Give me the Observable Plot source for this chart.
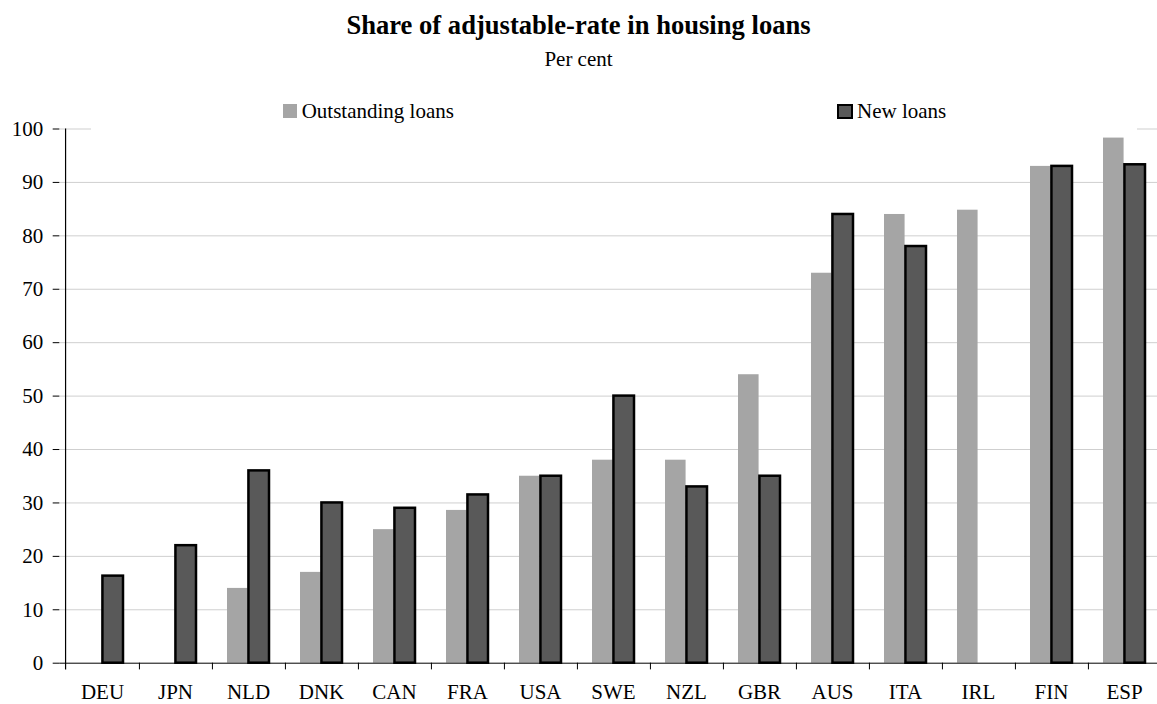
<!DOCTYPE html>
<html>
<head>
<meta charset="utf-8">
<script src="https://cdn.jsdelivr.net/npm/d3@7"></script>
<script src="https://cdn.jsdelivr.net/npm/@observablehq/plot@0.6"></script>
<style>
  html, body { margin: 0; padding: 0; overflow: hidden; background: #fff; }
  #wrap { position: relative; width: 1157px; height: 704px; font-family: "Liberation Serif", "Times New Roman", serif; color: #000; }
  .title { position: absolute; left: 0; width: 1157px; text-align: center; line-height: 1; white-space: nowrap; }
  #t1 { top: 11.5px; font-size: 26.6px; font-weight: bold; }
  #t2 { top: 49px; font-size: 21px; }
  #chart { position: absolute; left: 0; top: 80px; }
  #legend { position: absolute; left: 91px; top: 96px; width: 1046px; height: 36px; background: #fff; z-index: 2; }
  .li { position: absolute; top: 4.7px; font-size: 21px; line-height: 1; white-space: nowrap; }
  .sw { position: absolute; box-sizing: border-box; }
</style>
</head>
<body>
<div id="wrap">
  <div id="t1" class="title">Share of adjustable-rate in housing loans</div>
  <div id="t2" class="title">Per cent</div>
  <div id="chart"></div>
  <div id="legend">
    <div class="sw" style="left:192.3px; top:8.3px; width:13.5px; height:14px; background:#A5A5A5;"></div>
    <div class="li" style="left:210.7px;">Outstanding loans</div>
    <div class="sw" style="left:746px; top:8.3px; width:16px; height:14.5px; background:#595959; border:2.3px solid #000;"></div>
    <div class="li" style="left:766px;">New loans</div>
  </div>
</div>
<script>
const countries = ["DEU","JPN","NLD","DNK","CAN","FRA","USA","SWE","NZL","GBR","AUS","ITA","IRL","FIN","ESP"];
const outstanding = [null, null, 14, 17, 25, 28.6, 35, 38, 38, 54, 73, 84, 84.8, 93, 98.3];
const newLoans = [16.3, 22, 36, 30, 29, 31.5, 35, 50, 33, 35, 84, 78, null, 93, 93.3];
const yTicks = [0, 10, 20, 30, 40, 50, 60, 70, 80, 90, 100];
const gridValues = [10, 20, 30, 40, 50, 60, 70, 80, 90, 100];

const data = countries.map((c, i) => ({country: c, outstanding: outstanding[i], newLoans: newLoans[i]}));

const W = 1157, H = 624, mL = 59.3, mR = -10, mT = 48.5, mB = 41.3;
const pInner = 0.42, pOuter = 0.21;
const step = (W - mL - mR) / (countries.length - pInner + 2 * pOuter);
const bw = step * (1 - pInner);

const chart = Plot.plot({
  width: W,
  height: H,
  marginLeft: mL,
  marginRight: mR,
  marginTop: mT,
  marginBottom: mB,
  style: {fontFamily: "'Liberation Serif', 'Times New Roman', serif", fontSize: "21px", color: "#000", background: "transparent", overflow: "visible"},
  x: {domain: countries, paddingInner: pInner, paddingOuter: pOuter, align: 0.5},
  y: {domain: [0, 100]},
  marks: [
    Plot.ruleY(gridValues, {stroke: "#cfcfcf", strokeWidth: 1}),
    Plot.barY(data, {x: "country", y: "outstanding", fill: "#A5A5A5", insetRight: bw / 2}),
    Plot.barY(data, {x: "country", y: "newLoans", fill: "#595959", stroke: "#000", strokeWidth: 2.5, insetLeft: bw / 2}),
    Plot.ruleY([0], {stroke: "#000", strokeWidth: 1}),
    Plot.ruleX(countries, {x: d => d, dx: step / 2, y1: 0, y2: -1.25, stroke: "#000", strokeWidth: 1}),
    Plot.ruleX([countries[0]], {x: d => d, dx: -step / 2, y1: -1.25, y2: 100, stroke: "#000", strokeWidth: 1.2}),
    Plot.axisY({ticks: yTicks, tickSize: 6.6, tickPadding: 10, fontSize: 21, tickFormat: d => String(d), label: null, stroke: "#000"}),
    Plot.axisX({tickSize: 0, tickPadding: 21, fontSize: 21, label: null})
  ]
});
document.getElementById("chart").appendChild(chart);
</script>
</body>
</html>
